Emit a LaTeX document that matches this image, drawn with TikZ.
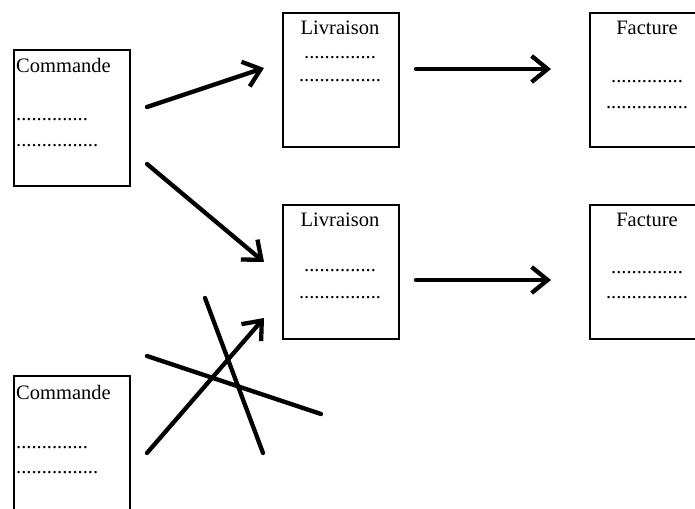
\documentclass[tikz,border=0pt]{standalone}
\usepackage{fontspec}
\setmainfont{Liberation Serif}
\usetikzlibrary{arrows.meta}
\begin{document}
\begin{tikzpicture}[x=1pt,y=-1pt,
  doc/.style={draw,line width=2pt,anchor=north west,inner sep=0pt},
  txt/.style={font=\fontsize{20.5}{20.5}\selectfont,inner sep=0pt},
  flow/.style={line width=4.3pt,line cap=round,-{Straight Barb[length=16pt,width=26pt,line width=4.3pt]}},
  cross/.style={line width=4.3pt,line cap=round}]
\useasboundingbox (0,0) rectangle (695,508);

% documents
\node[doc,minimum width=116pt,minimum height=136pt] (c1) at (13,49) {};
\node[doc,minimum width=116pt,minimum height=160pt] (c2) at (13,375) {};
\node[doc,minimum width=116pt,minimum height=134pt] (l1) at (282,12) {};
\node[doc,minimum width=116pt,minimum height=134pt] (l2) at (282,204) {};
\node[doc,minimum width=116pt,minimum height=134pt] (f1) at (589,12) {};
\node[doc,minimum width=116pt,minimum height=134pt] (f2) at (589,204) {};

% Commande texts
\node[txt,anchor=base west] (c1t) at (16,73) {Commande};
\node[txt,anchor=base west] (c1a) at (16,121) {..............};
\node[txt,anchor=base west] (c1b) at (16,146) {................};
\node[txt,anchor=base west] (c2t) at (16,399) {Commande};
\node[txt,anchor=base west] (c2a) at (16,448) {..............};
\node[txt,anchor=base west] (c2b) at (16,473) {................};

% Livraison texts
\node[txt,anchor=base] (l1t) at (340,35) {Livraison};
\node[txt,anchor=base] (l1a) at (340,59) {..............};
\node[txt,anchor=base] (l1b) at (340,82) {................};
\node[txt,anchor=base] (l2t) at (340,226) {Livraison};
\node[txt,anchor=base] (l2a) at (340,271) {..............};
\node[txt,anchor=base] (l2b) at (340,298) {................};

% Facture texts
\node[txt,anchor=base] (f1t) at (647,35) {Facture};
\node[txt,anchor=base] (f1a) at (647,83) {..............};
\node[txt,anchor=base] (f1b) at (647,108) {................};
\node[txt,anchor=base] (f2t) at (647,226) {Facture};
\node[txt,anchor=base] (f2a) at (647,273) {..............};
\node[txt,anchor=base] (f2b) at (647,298) {................};

% connector ends
\coordinate (a1s) at (147,107); \coordinate (a1e) at (264,68);
\coordinate (a2s) at (147,164); \coordinate (a2e) at (264,262);
\coordinate (a3s) at (147,453); \coordinate (a3e) at (264,318);
\coordinate (b1s) at (416,69);  \coordinate (b1e) at (551,69);
\coordinate (b2s) at (416,280); \coordinate (b2e) at (551,280);
\coordinate (x1s) at (205,298); \coordinate (x1e) at (263,453);
\coordinate (x2s) at (147,356); \coordinate (x2e) at (321,414);

% arrows
\draw[flow] (a1s) -- (a1e);
\draw[flow] (a2s) -- (a2e);
\draw[flow] (a3s) -- (a3e);
\draw[flow] (b1s) -- (b1e);
\draw[flow] (b2s) -- (b2e);

% crossed-out lines
\draw[cross] (x1s) -- (x1e);
\draw[cross] (x2s) -- (x2e);
\end{tikzpicture}
\end{document}
